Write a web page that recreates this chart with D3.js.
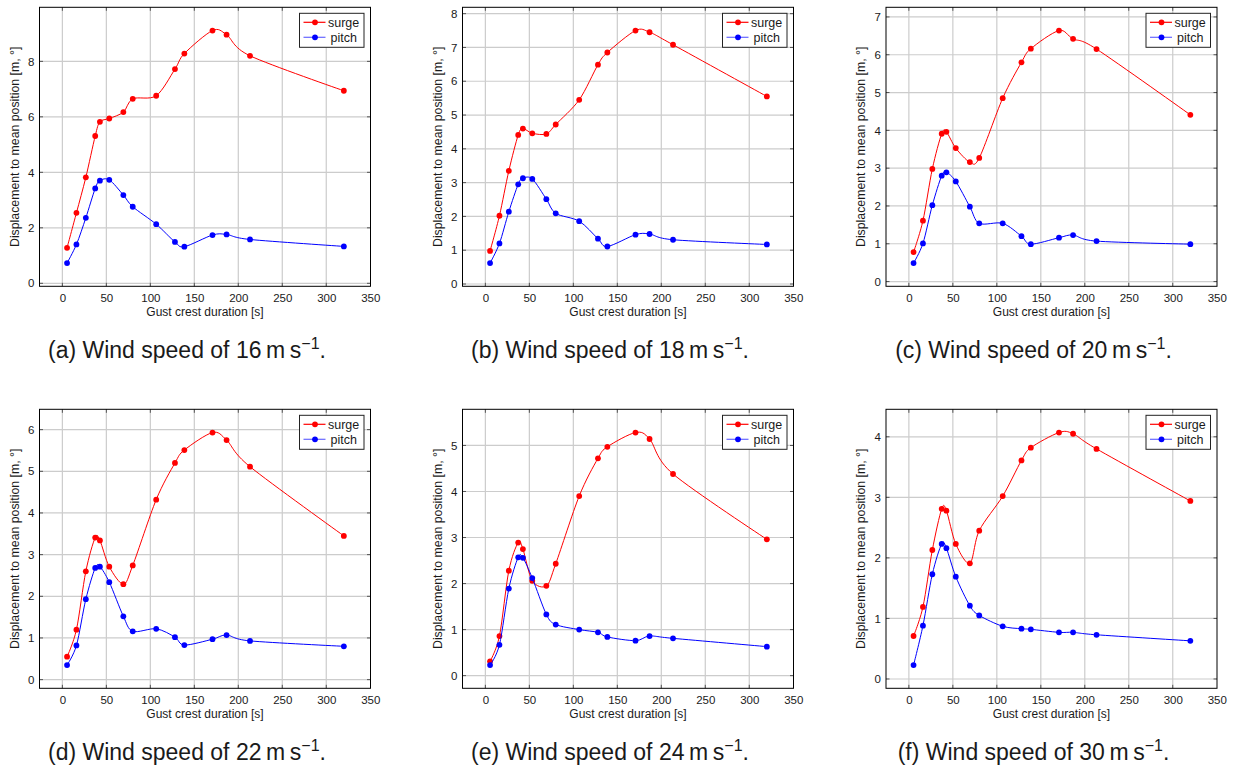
<!DOCTYPE html>
<html>
<head>
<meta charset="utf-8">
<script src="https://cdn.jsdelivr.net/npm/d3@7"></script>
<style>
  html, body { margin: 0; padding: 0; background: #ffffff; }
  svg { display: block; }
  text { font-family: "Liberation Sans", Arial, Helvetica, sans-serif; fill: #1a1a1a; }
</style>
</head>
<body>
<svg id="chart" width="1234" height="772"></svg>
<script>
// ---------------- data ----------------
const gustDuration = [5.33, 16, 26.67, 37.33, 42.67, 53.33, 69.33, 80, 106.67, 128, 138.67, 170.67, 186.67, 213.33, 320];

const surge16 = [1.28, 2.54, 3.82, 5.31, 5.82, 5.94, 6.17, 6.65, 6.76, 7.72, 8.28, 9.11, 8.96, 8.20, 6.94];
const pitch16 = [0.73, 1.40, 2.36, 3.42, 3.70, 3.73, 3.18, 2.76, 2.13, 1.49, 1.32, 1.74, 1.76, 1.58, 1.33];

const surge18 = [0.98, 2.02, 3.35, 4.41, 4.60, 4.46, 4.44, 4.72, 5.45, 6.49, 6.85, 7.50, 7.45, 7.08, 5.55];
const pitch18 = [0.62, 1.20, 2.14, 2.95, 3.13, 3.11, 2.51, 2.09, 1.86, 1.34, 1.11, 1.46, 1.48, 1.31, 1.17];

const surge20 = [0.78, 1.61, 2.98, 3.91, 3.96, 3.53, 3.16, 3.27, 4.85, 5.80, 6.16, 6.64, 6.42, 6.15, 4.41];
const pitch20 = [0.49, 1.01, 2.02, 2.80, 2.89, 2.65, 1.98, 1.54, 1.54, 1.20, 0.99, 1.16, 1.23, 1.07, 0.99];

const surge22 = [0.55, 1.20, 2.60, 3.41, 3.34, 2.71, 2.29, 2.74, 4.32, 5.20, 5.51, 5.93, 5.75, 5.11, 3.45];
const pitch22 = [0.35, 0.82, 1.93, 2.68, 2.71, 2.34, 1.52, 1.16, 1.22, 1.02, 0.83, 0.97, 1.07, 0.93, 0.80];

const surge24 = [0.31, 0.86, 2.28, 2.89, 2.75, 2.06, 1.95, 2.43, 3.90, 4.72, 4.97, 5.28, 5.14, 4.38, 2.96];
const pitch24 = [0.23, 0.67, 1.89, 2.57, 2.56, 2.12, 1.33, 1.11, 1.00, 0.94, 0.84, 0.76, 0.86, 0.81, 0.63];

const surge30 = [0.71, 1.19, 2.13, 2.81, 2.78, 2.23, 1.91, 2.45, 3.02, 3.61, 3.82, 4.07, 4.05, 3.80, 2.94];
const pitch30 = [0.23, 0.88, 1.73, 2.23, 2.16, 1.69, 1.21, 1.05, 0.87, 0.83, 0.82, 0.77, 0.77, 0.73, 0.63];

const windSpeeds = [16, 18, 20, 22, 24, 30];
const panelLetters = ["a", "b", "c", "d", "e", "f"];
const seriesNames = ["surge", "pitch"];
const seriesColors = ["#ff0000", "#0000ff"];
const xTickValues = [0, 50, 100, 150, 200, 250, 300, 350];
const yTicks16 = [0, 2, 4, 6, 8];
const yTicks18 = [0, 1, 2, 3, 4, 5, 6, 7, 8];
const yTicks20 = [0, 1, 2, 3, 4, 5, 6, 7];
const yTicks22 = [0, 1, 2, 3, 4, 5, 6];
const yTicks24 = [0, 1, 2, 3, 4, 5];
const yTicks30 = [0, 1, 2, 3, 4];
const xLabel = "Gust crest duration [s]";
const yLabel = "Displacement to mean position [m, °]";

const surgeAll = [surge16, surge18, surge20, surge22, surge24, surge30];
const pitchAll = [pitch16, pitch18, pitch20, pitch22, pitch24, pitch30];
const yTicksAll = [yTicks16, yTicks18, yTicks20, yTicks22, yTicks24, yTicks30];

// ---------------- layout ----------------
const svg = d3.select("#chart");
const colLeft = [39.5, 462.5, 886];
const rowTop = [7.3, 409.3];
const W = 331, H = 279;
const xDomain = [-26, 350.3];

const lineGen = (x, y) => d3.line()
  .x((d, i) => x(gustDuration[i]))
  .y(d => y(d))
  .curve(d3.curveCardinal.tension(0.08));

for (let p = 0; p < 6; p++) {
  const left = colLeft[p % 3];
  const top = rowTop[Math.floor(p / 3)];
  const g = svg.append("g").attr("transform", `translate(${left},${top})`);

  const all = surgeAll[p].concat(pitchAll[p]);
  const [mn, mx] = d3.extent(all);
  const r = mx - mn;
  const x = d3.scaleLinear().domain(xDomain).range([0, W]);
  const y = d3.scaleLinear().domain([mn - 0.1 * r, mx + 0.1 * r]).range([H, 0]);
  const yTickValues = yTicksAll[p];

  // grid
  g.append("g").selectAll("line").data(xTickValues.filter(v => x(v) < W - 0.5)).join("line")
    .attr("x1", d => x(d)).attr("x2", d => x(d)).attr("y1", 0).attr("y2", H)
    .attr("stroke", "#cccccc").attr("stroke-width", 1.2);
  g.append("g").selectAll("line").data(yTickValues).join("line")
    .attr("y1", d => y(d)).attr("y2", d => y(d)).attr("x1", 0).attr("x2", W)
    .attr("stroke", "#cccccc").attr("stroke-width", 1.2);

  // axes (labels via d3 axes)
  const xAxis = d3.axisBottom(x).tickValues(xTickValues).tickSize(0).tickPadding(8).tickFormat(d3.format("d"));
  const yAxis = d3.axisLeft(y).tickValues(yTickValues).tickSize(0).tickPadding(5).tickFormat(d3.format("d"));
  const gx = g.append("g").attr("transform", `translate(0,${H})`).call(xAxis);
  const gy = g.append("g").call(yAxis);
  [gx, gy].forEach(a => {
    a.select(".domain").remove();
    a.selectAll("text").style("font-size", "11.5px").style("font-family", '"Liberation Sans", Arial, sans-serif').attr("fill", "#1a1a1a");
  });

  // inward tick marks on all four sides
  const tk = 3.5;
  const tickG = g.append("g").attr("stroke", "#333").attr("stroke-width", 0.8);
  xTickValues.filter(v => x(v) < W - 0.5).forEach(v => {
    tickG.append("line").attr("x1", x(v)).attr("x2", x(v)).attr("y1", H).attr("y2", H - tk);
    tickG.append("line").attr("x1", x(v)).attr("x2", x(v)).attr("y1", 0).attr("y2", tk);
  });
  yTickValues.forEach(v => {
    tickG.append("line").attr("x1", 0).attr("x2", tk).attr("y1", y(v)).attr("y2", y(v));
    tickG.append("line").attr("x1", W).attr("x2", W - tk).attr("y1", y(v)).attr("y2", y(v));
  });

  // frame
  g.append("rect").attr("x", 0).attr("y", 0).attr("width", W).attr("height", H)
    .attr("fill", "none").attr("stroke", "#000").attr("stroke-width", 1);

  // series
  const seriesData = [surgeAll[p], pitchAll[p]];
  seriesData.forEach((vals, si) => {
    g.append("path").datum(vals).attr("d", lineGen(x, y)(vals))
      .attr("fill", "none").attr("stroke", seriesColors[si]).attr("stroke-width", 1);
    g.append("g").selectAll("circle").data(vals).join("circle")
      .attr("cx", (d, i) => x(gustDuration[i])).attr("cy", d => y(d)).attr("r", 2.9)
      .attr("fill", seriesColors[si]);
  });

  // legend
  const lg = g.append("g").attr("transform", `translate(${W - 71},6)`);
  lg.append("rect").attr("x", 0).attr("y", 0).attr("width", 64.5).attr("height", 34)
    .attr("fill", "#fff").attr("stroke", "#222").attr("stroke-width", 1);
  seriesNames.forEach((nm, si) => {
    const yy = 9 + si * 15;
    lg.append("line").attr("x1", 4).attr("x2", 26).attr("y1", yy).attr("y2", yy)
      .attr("stroke", seriesColors[si]).attr("stroke-width", 1.2).attr("stroke-opacity", si === 0 ? 1 : 0.6);
    lg.append("circle").attr("cx", 15.5).attr("cy", yy).attr("r", 2.9).attr("fill", seriesColors[si]);
    lg.append("text").attr("x", si === 0 ? 28.5 : 31).attr("y", yy).attr("dy", "0.35em")
      .style("font-size", "12.5px").text(nm);
  });

  // axis labels
  g.append("text").attr("x", W / 2).attr("y", H + 25.5).attr("dy", "0.35em")
    .attr("text-anchor", "middle").style("font-size", "12px").text(xLabel);
  g.append("text").attr("transform", `translate(-25,${H / 2}) rotate(-90)`).attr("dy", "0.35em")
    .attr("text-anchor", "middle").style("font-size", "12.3px").text(yLabel);

  // caption
  const cap = g.append("text").attr("x", W / 2 - 18).attr("y", 350.5)
    .attr("text-anchor", "middle").style("font-size", "23px");
  cap.append("tspan").text(`(${panelLetters[p]}) Wind speed of ${windSpeeds[p]}\u2009m\u2009s`);
  cap.append("tspan").attr("dy", -9).style("font-size", "16px").text("\u22121");
  cap.append("tspan").attr("dy", 9).text(".");
}
</script>
</body>
</html>
